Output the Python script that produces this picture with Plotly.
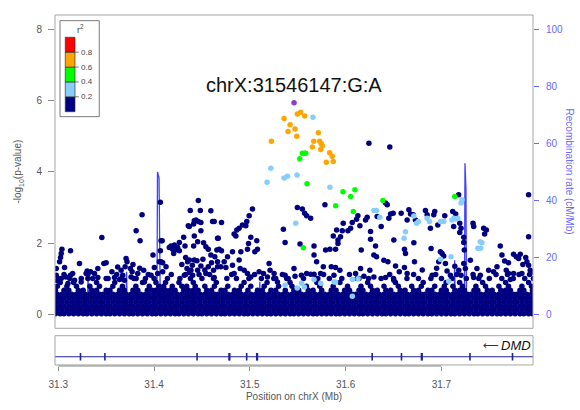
"""Regional association plot (LocusZoom style) around chrX:31546147:G:A.

Points are coloured by LD (r^2) with the lead variant, the blue line is the
recombination rate on the right-hand axis and the lower strip shows DMD.
"""
from __future__ import annotations

import plotly.graph_objects as go

# ---------------------------------------------------------------------------
# Data
# ---------------------------------------------------------------------------

lead_label = "chrX:31546147:G:A"
lead_pos = [31.546147]
lead_logp = [5.94]

orange_pos = [31.5357, 31.5496, 31.5531, 31.5573, 31.5420, 31.5472, 31.5399,
              31.5490, 31.5225, 31.5715, 31.5667, 31.5729, 31.5746, 31.5756,
              31.5652, 31.5740, 31.5833, 31.5860, 31.5798, 31.5871]
orange_logp = [5.50, 5.62, 5.67, 5.57, 5.32, 5.20, 5.13, 5.00, 4.86, 5.10,
               4.86, 4.86, 4.79, 4.73, 4.70, 4.63, 4.54, 4.44, 4.27, 4.29]

green_pos = [31.5548, 31.5573, 31.5583, 31.5521, 31.5597, 31.5972, 31.6097,
             31.6052, 31.5896, 31.6389, 31.6080, 31.5559, 31.7139]
green_logp = [4.52, 4.52, 4.52, 4.37, 3.67, 3.44, 3.50, 3.31, 3.05, 3.20,
              2.89, 1.87, 3.31]

lblue_pos = [31.5659, 31.5219, 31.5180, 31.5357, 31.5392, 31.5493, 31.5836,
             31.6295, 31.6323, 31.6357, 31.5479, 31.5368, 31.5540, 31.5495,
             31.5570, 31.5670, 31.5740, 31.5880, 31.5895, 31.6070, 31.6130,
             31.6070, 31.6712, 31.6740, 31.6760, 31.6850, 31.6875, 31.6990,
             31.7025, 31.7110, 31.7130, 31.7150, 31.7170, 31.7205, 31.7215,
             31.6625, 31.6610, 31.7406, 31.7423, 31.7380, 31.7410, 31.6990,
             31.7100, 31.7076]
lblue_logp = [5.53, 4.10, 3.71, 3.83, 3.88, 3.91, 3.57, 2.92, 2.92, 2.73,
              2.56, 0.82, 0.88, 0.74, 0.77, 0.98, 0.88, 0.91, 0.91, 0.98,
              1.00, 0.51, 2.76, 2.56, 2.61, 2.70, 2.61, 2.61, 2.61, 2.65,
              2.70, 2.68, 2.70, 3.13, 3.22, 2.32, 2.14, 2.04, 2.01, 1.86,
              1.86, 1.55, 1.62, 0.93]

# Dense low-significance band (r^2 < 0.2): positions of the packed rows
band_even_pos = [
    31.297, 31.302, 31.306, 31.311, 31.316, 31.321, 31.326, 31.330, 31.335,
    31.340, 31.345, 31.350, 31.354, 31.359, 31.364, 31.369, 31.374, 31.378,
    31.383, 31.388, 31.393, 31.398, 31.402, 31.407, 31.412, 31.417, 31.422,
    31.426, 31.431, 31.436, 31.441, 31.446, 31.450, 31.455, 31.460, 31.465,
    31.470, 31.474, 31.479, 31.484, 31.489, 31.494, 31.498, 31.503, 31.508,
    31.513, 31.518, 31.522, 31.527, 31.532, 31.537, 31.542, 31.546, 31.551,
    31.556, 31.561, 31.566, 31.570, 31.575, 31.580, 31.585, 31.590, 31.594,
    31.599, 31.604, 31.609, 31.614, 31.618, 31.623, 31.628, 31.633, 31.638,
    31.642, 31.647, 31.652, 31.657, 31.662, 31.666, 31.671, 31.676, 31.681,
    31.686, 31.690, 31.695, 31.700, 31.705, 31.710, 31.714, 31.719, 31.724,
    31.729, 31.734, 31.738, 31.743, 31.748, 31.753, 31.758, 31.762, 31.767,
    31.772, 31.777, 31.782, 31.786, 31.791, 31.795]
band_odd_pos = [
    31.299, 31.304, 31.309, 31.314, 31.319, 31.323, 31.328, 31.333, 31.338,
    31.343, 31.347, 31.352, 31.357, 31.362, 31.367, 31.371, 31.376, 31.381,
    31.386, 31.391, 31.395, 31.400, 31.405, 31.410, 31.415, 31.419, 31.424,
    31.429, 31.434, 31.439, 31.443, 31.448, 31.453, 31.458, 31.463, 31.467,
    31.472, 31.477, 31.482, 31.487, 31.491, 31.496, 31.501, 31.506, 31.511,
    31.515, 31.520, 31.525, 31.530, 31.535, 31.539, 31.544, 31.549, 31.554,
    31.559, 31.563, 31.568, 31.573, 31.578, 31.583, 31.587, 31.592, 31.597,
    31.602, 31.607, 31.611, 31.616, 31.621, 31.626, 31.631, 31.635, 31.640,
    31.645, 31.650, 31.655, 31.659, 31.664, 31.669, 31.674, 31.679, 31.683,
    31.688, 31.693, 31.698, 31.703, 31.707, 31.712, 31.717, 31.722, 31.727,
    31.731, 31.736, 31.741, 31.746, 31.751, 31.755, 31.760, 31.765, 31.770,
    31.775, 31.779, 31.784, 31.789, 31.794]
band_even_logp = [0.02, 0.24, 0.46]
band_odd_logp = [0.13, 0.35, 0.57]

# Thinner rows on top of the band
row68_pos = [31.297, 31.306, 31.311, 31.321, 31.326, 31.335, 31.340, 31.350,
             31.354, 31.364, 31.369, 31.378, 31.383, 31.393, 31.398, 31.402,
             31.407, 31.412, 31.417, 31.422, 31.431, 31.436, 31.441, 31.446,
             31.455, 31.460, 31.470, 31.474, 31.484, 31.489, 31.498, 31.508,
             31.513, 31.522, 31.527, 31.537, 31.546, 31.551, 31.561, 31.566,
             31.575, 31.585, 31.590, 31.599, 31.604, 31.614, 31.618, 31.628,
             31.633, 31.642, 31.647, 31.657, 31.662, 31.671, 31.676, 31.686,
             31.690, 31.700, 31.705, 31.714, 31.719, 31.724, 31.734, 31.738,
             31.748, 31.753, 31.762, 31.767, 31.772, 31.782, 31.786, 31.795]
row79_pos = [31.299, 31.309, 31.319, 31.333, 31.343, 31.357, 31.367, 31.381,
             31.395, 31.405, 31.410, 31.419, 31.429, 31.434, 31.443, 31.453,
             31.463, 31.477, 31.491, 31.501, 31.515, 31.530, 31.544, 31.559,
             31.573, 31.587, 31.602, 31.616, 31.626, 31.640, 31.655, 31.669,
             31.679, 31.693, 31.703, 31.712, 31.722, 31.736, 31.746, 31.760,
             31.770, 31.784, 31.794]
row90_pos = [31.302, 31.316, 31.340, 31.359, 31.388, 31.402, 31.412, 31.426,
             31.441, 31.465, 31.494, 31.518, 31.542, 31.570, 31.594, 31.623,
             31.652, 31.681, 31.705, 31.719, 31.743, 31.767, 31.791]
row101_pos = [31.300, 31.312, 31.324, 31.336, 31.352, 31.366, 31.379, 31.391,
              31.400, 31.414, 31.427, 31.438, 31.450, 31.462, 31.476, 31.486,
              31.499, 31.512, 31.525, 31.540, 31.556, 31.571, 31.583, 31.596,
              31.612, 31.624, 31.637, 31.650, 31.664, 31.676, 31.689, 31.700,
              31.711, 31.726, 31.739, 31.750, 31.763, 31.775, 31.787, 31.796]
row112_pos = [31.306, 31.331, 31.361, 31.394, 31.418, 31.433, 31.447, 31.458,
              31.481, 31.505, 31.534, 31.577, 31.604, 31.646, 31.671, 31.694,
              31.716, 31.733, 31.757, 31.769, 31.781, 31.792]
row_logp = {"row68": 0.68, "row79": 0.79, "row90": 0.90, "row101": 1.01,
            "row112": 1.12}

# Scattered r^2 < 0.2 variants above the band: (position Mb, -log10 p)
navy_scatter = [
    (31.6243, 4.80), (31.6461, 4.70), (31.7910, 3.36), (31.7180, 3.36),
    (31.7910, 2.18),
    (31.4066, 3.15), (31.3875, 2.80), (31.3813, 2.35), (31.3854, 2.07),
    (31.3455, 2.16), (31.3128, 1.79), (31.3038, 1.83), (31.3031, 1.71),
    (31.3024, 1.60), (31.3014, 1.48), (31.2979, 1.29), (31.3066, 1.32),
    (31.3222, 1.43), (31.3476, 1.43), (31.3500, 1.45), (31.3413, 1.29),
    (31.3302, 1.22), (31.3337, 1.20), (31.3128, 1.10), (31.3708, 1.57),
    (31.3718, 1.48), (31.3698, 1.34), (31.3753, 1.29), (31.3771, 1.20),
    (31.3892, 1.24), (31.3989, 1.67), (31.4003, 1.32), (31.4073, 2.07),
    (31.4085, 2.07), (31.4066, 1.79), (31.4055, 1.48), (31.4073, 1.48),
    (31.4090, 1.45), (31.4125, 1.34), (31.4159, 1.88), (31.4177, 1.92),
    (31.4194, 1.83), (31.4212, 1.95), (31.4219, 1.81), (31.4246, 1.88),
    (31.4205, 1.71), (31.4264, 1.79), (31.4264, 2.02), (31.4309, 2.17),
    (31.4323, 1.92), (31.4357, 2.49), (31.4368, 2.47), (31.4378, 2.92),
    (31.4420, 2.63), (31.4437, 2.65), (31.4462, 2.61), (31.4413, 2.54),
    (31.4489, 2.58), (31.4489, 2.35), (31.4462, 3.20), (31.4483, 2.92),
    (31.4593, 2.91), (31.4611, 2.61), (31.4420, 2.20), (31.4455, 2.04),
    (31.4413, 1.92), (31.4517, 2.01), (31.4541, 1.90), (31.4566, 1.83),
    (31.4593, 1.67), (31.4663, 2.14), (31.4656, 1.81), (31.4350, 1.48),
    (31.4368, 1.53), (31.4344, 1.29), (31.4420, 1.53), (31.4448, 1.51),
    (31.4385, 1.24), (31.4316, 1.10), (31.4403, 1.10), (31.4455, 1.24),
    (31.4489, 1.36), (31.4566, 1.34), (31.4541, 1.15), (31.4621, 1.24),
    (31.4663, 1.48), (31.4628, 1.04), (31.3291, 1.15), (31.3378, 1.15),
    (31.3309, 1.01), (31.3413, 1.04), (31.3500, 1.01), (31.3587, 1.04),
    (31.3656, 1.24), (31.3673, 1.10), (31.3691, 0.96), (31.3760, 1.05),
    (31.3813, 1.01), (31.3830, 1.15), (31.3899, 0.91), (31.3969, 1.10),
    (31.4038, 1.15), (31.4090, 1.20), (31.2979, 1.10), (31.3031, 1.01),
    (31.3101, 0.87), (31.3170, 0.96), (31.3239, 0.91), (31.4290, 1.40),
    (31.4330, 1.60), (31.4400, 1.38), (31.4510, 1.55), (31.4600, 1.45),
    (31.4530, 1.25), (31.4370, 1.18), (31.3560, 1.20), (31.3620, 1.33),
    (31.3640, 0.98), (31.3780, 1.40), (31.3850, 1.30), (31.2990, 0.95),
    (31.3080, 1.05), (31.3150, 1.15),
    (31.5027, 2.96), (31.4993, 2.77), (31.4968, 2.61), (31.4958, 2.49),
    (31.4923, 2.51), (31.4888, 2.42), (31.4864, 2.37), (31.4836, 2.26),
    (31.4854, 2.20), (31.4704, 2.58), (31.4628, 2.61), (31.4670, 2.14),
    (31.5010, 2.17), (31.5072, 2.07), (31.4986, 1.99), (31.5079, 1.83),
    (31.5052, 1.76), (31.4975, 1.83), (31.4906, 1.76), (31.4819, 1.76),
    (31.4680, 1.83), (31.4704, 1.79), (31.4635, 1.62), (31.4732, 1.48),
    (31.4697, 1.34), (31.4663, 1.34), (31.4750, 1.32), (31.4888, 1.53),
    (31.4899, 1.29), (31.4941, 1.24), (31.4836, 1.15), (31.4975, 1.15),
    (31.5010, 1.05), (31.5097, 1.20), (31.5142, 1.15), (31.5201, 1.43),
    (31.5211, 1.24), (31.5184, 1.05), (31.5253, 1.15), (31.5270, 1.01),
    (31.5288, 0.91), (31.5350, 2.39), (31.5368, 2.02), (31.5368, 1.10),
    (31.5385, 1.01), (31.5461, 1.29), (31.5472, 1.07), (31.5538, 1.10),
    (31.5593, 1.15), (31.5635, 1.13), (31.5670, 1.13), (31.5687, 1.01),
    (31.5739, 1.15), (31.5767, 1.34), (31.5496, 3.00), (31.5548, 2.96),
    (31.5572, 2.84), (31.5593, 2.77), (31.5635, 2.70), (31.5524, 1.98),
    (31.5670, 1.92), (31.5670, 1.67), (31.5697, 1.48), (31.5784, 3.08),
    (31.5836, 1.83), (31.5791, 1.81), (31.5850, 1.34), (31.5895, 1.32),
    (31.5940, 1.24), (31.5878, 1.10), (31.5871, 2.20), (31.5920, 2.09),
    (31.5947, 2.18), (31.5965, 2.35), (31.5906, 2.37), (31.5920, 1.99),
    (31.5895, 1.83), (31.5975, 2.56), (31.6024, 2.35), (31.6052, 2.42),
    (31.6069, 2.58), (31.6114, 2.67), (31.6128, 2.77), (31.6149, 2.49),
    (31.6208, 2.65), (31.6225, 2.73), (31.6260, 2.33), (31.6163, 1.81),
    (31.6260, 2.11), (31.6156, 1.29), (31.6104, 1.15), (31.6139, 1.01),
    (31.6253, 1.24), (31.6191, 1.07), (31.6295, 1.05), (31.6329, 2.75),
    (31.4767, 1.62), (31.4819, 1.38),
    (31.6417, 3.13), (31.6434, 3.08), (31.6469, 2.82), (31.6496, 2.84),
    (31.6451, 2.70), (31.6580, 2.84), (31.6660, 2.94), (31.6677, 2.82),
    (31.6705, 2.80), (31.6729, 2.65), (31.6642, 2.65), (31.6833, 2.92),
    (31.6851, 2.80), (31.6930, 2.89), (31.6920, 2.80), (31.6962, 2.51),
    (31.6885, 2.42), (31.7035, 2.77), (31.7118, 2.89), (31.7149, 2.82),
    (31.7128, 2.47), (31.7191, 2.56), (31.7205, 2.42), (31.7191, 2.30),
    (31.7330, 2.56), (31.7337, 2.47), (31.7233, 2.17), (31.7233, 2.02),
    (31.7441, 2.42), (31.7469, 2.37), (31.7451, 2.26), (31.6371, 2.47),
    (31.6312, 1.92), (31.6295, 1.67), (31.6323, 1.62), (31.6399, 1.52),
    (31.6441, 1.48), (31.6503, 2.09), (31.6614, 1.83), (31.6712, 2.01),
    (31.6625, 1.71), (31.6892, 1.85), (31.6989, 1.76), (31.7007, 1.71),
    (31.7024, 1.64), (31.6972, 1.48), (31.7042, 1.43), (31.6719, 1.48),
    (31.6614, 1.32), (31.6521, 1.36), (31.6417, 1.04), (31.6503, 0.96),
    (31.6642, 1.15), (31.7239, 1.81), (31.7233, 1.43), (31.7250, 1.29),
    (31.7302, 1.52), (31.6903, 1.10), (31.7059, 1.22), (31.7094, 1.10),
    (31.7181, 1.24), (31.7205, 1.10), (31.7614, 1.92), (31.7632, 1.67),
    (31.7753, 1.69), (31.7781, 1.62), (31.7823, 1.69), (31.7806, 1.57),
    (31.7892, 1.48), (31.7910, 1.38), (31.7927, 1.24), (31.7493, 1.24),
    (31.7545, 1.20), (31.7580, 1.34), (31.7677, 1.24), (31.7701, 1.15),
    (31.7753, 1.15), (31.7840, 1.15), (31.7719, 0.98), (31.7371, 1.29),
    (31.7406, 1.10), (31.7337, 1.04), (31.7700, 1.45), (31.7850, 1.40),
    (31.7880, 1.60), (31.7660, 1.50), (31.7950, 1.20), (31.6800, 1.25),
    (31.6950, 1.30), (31.6560, 1.20), (31.7140, 1.35),
]

# Recombination rate (cM/Mb)
recomb_pos = [31.2966, 31.3100, 31.3305, 31.3311, 31.3318, 31.3500, 31.3706,
              31.3713, 31.3720, 31.3900, 31.4030, 31.4036, 31.4052, 31.4058,
              31.4066, 31.4300, 31.4600, 31.4900, 31.5098, 31.5104, 31.5110,
              31.5400, 31.5800, 31.6200, 31.6600, 31.6758, 31.6764, 31.6770,
              31.6950, 31.7132, 31.7138, 31.7144, 31.7240, 31.7246, 31.7256,
              31.7262, 31.7300, 31.7600, 31.7956]
recomb_rate = [0.6, 0.9, 1.0, 14.0, 1.2, 0.8, 1.5, 15.0, 1.4, 0.9, 1.8, 50.0,
               48.0, 13.0, 1.5, 0.7, 1.1, 0.8, 0.9, 11.5, 0.9, 0.6, 0.4, 0.5,
               0.7, 0.8, 5.5, 0.8, 0.6, 0.9, 19.0, 1.0, 2.0, 53.0, 44.0, 2.5,
               0.6, 0.3, 0.2]

# Gene track (DMD, minus strand)
gene_name = "DMD"
gene_span = [31.097677, 33.339441]
exon_pos = [31.3232, 31.3487, 31.4449, 31.4783, 31.4790, 31.4967, 31.5072,
            31.5079, 31.6277, 31.6583, 31.6792, 31.6798, 31.7298, 31.7742]

# Axes
x_ticks = [31.3, 31.4, 31.5, 31.6, 31.7]
logp_ticks = [0, 2, 4, 6, 8]
recomb_ticks = [0, 20, 40, 60, 80, 100]
r2_breaks = [0.0, 0.2, 0.4, 0.6, 0.8, 1.0]
r2_labels = ["0.2", "0.4", "0.6", "0.8"]
r2_colors = ["#000080", "#87CEFA", "#00FF00", "#FFA500", "#FF0000"]

# ---------------------------------------------------------------------------
# Style
# ---------------------------------------------------------------------------

_FONT = "Liberation Sans, Arial, Helvetica, sans-serif"
_LEAD_COLOR = "#8A3CD6"
_RECOMB_COLOR = "rgba(30, 30, 255, 0.85)"
_AXIS_BLUE = "#6a6aff"
_GRAY_TEXT = "#555555"
_FRAME = "#a6a6a6"
_GENE_COLOR = "#22229a"
_POINT_SIZE = 5.5

X_RANGE = [31.2966, 31.7956]
P_RANGE = [-0.387, 8.40]
RECOMB_PER_UNIT = 12.5  # 100 cM/Mb lines up with -log10 p = 8
MAIN_DOMAIN = [0.1074, 1.0]
GENE_DOMAIN = [0.003, 0.0863]
GENE_Y = 0.28


def _band_rows() -> tuple[list[float], list[float]]:
    """Flatten the packed rows of the low-significance band."""
    xs: list[float] = []
    ys: list[float] = []
    for level in band_even_logp:
        xs += band_even_pos
        ys += [level] * len(band_even_pos)
    for level in band_odd_logp:
        xs += band_odd_pos
        ys += [level] * len(band_odd_pos)
    partial = (("row68", row68_pos), ("row79", row79_pos), ("row90", row90_pos),
               ("row101", row101_pos), ("row112", row112_pos))
    for key, pos in partial:
        xs += pos
        ys += [row_logp[key]] * len(pos)
    return xs, ys


def _points(fig: go.Figure, xs, ys, color: str) -> None:
    fig.add_trace(
        go.Scatter(
            x=xs, y=ys, mode="markers", xaxis="x", yaxis="y2",
            marker={"color": color, "size": _POINT_SIZE, "line": {"width": 0}},
            hoverinfo="skip",
        )
    )


def _add_r2_legend(fig: go.Figure) -> None:
    """Boxed colour key in the top-left corner of the association panel."""
    box = (0.0105, 0.0926, 0.7103, 0.9838)
    bar_x0, bar_x1, bar_y0, bar_y1 = 0.0215, 0.0418, 0.7245, 0.9365
    fig.add_shape(type="rect", xref="paper", yref="paper", x0=box[0], x1=box[1],
                  y0=box[2], y1=box[3], line={"color": "#7a7a7a", "width": 1},
                  fillcolor="white", layer="above")
    span = bar_y1 - bar_y0
    for i, color in enumerate(r2_colors):
        fig.add_shape(type="rect", xref="paper", yref="paper", x0=bar_x0, x1=bar_x1,
                      y0=bar_y0 + r2_breaks[i] * span, y1=bar_y0 + r2_breaks[i + 1] * span,
                      line={"color": "#333333", "width": 0.7}, fillcolor=color,
                      layer="above")
    for brk, label in zip(r2_breaks[1:-1], r2_labels):
        y = bar_y0 + brk * span
        fig.add_shape(type="line", xref="paper", yref="paper", x0=bar_x1, x1=bar_x1 + 0.008,
                      y0=y, y1=y, line={"color": "#555555", "width": 0.8}, layer="above")
        fig.add_annotation(xref="paper", yref="paper", x=bar_x1 + 0.009, y=y, text=label,
                           showarrow=False, xanchor="left", yanchor="middle",
                           font={"size": 8, "color": "#444444"})
    fig.add_annotation(xref="paper", yref="paper", x=0.0535, y=0.9600,
                       text="r<sup>2</sup>", showarrow=False, xanchor="center",
                       yanchor="middle", font={"size": 9, "color": "#444444"})


def build_figure() -> go.Figure:
    fig = go.Figure()

    # Recombination rate sits underneath the points
    fig.add_trace(
        go.Scatter(x=recomb_pos, y=recomb_rate, mode="lines", xaxis="x", yaxis="y",
                   line={"color": _RECOMB_COLOR, "width": 1.3}, hoverinfo="skip")
    )

    band_x, band_y = _band_rows()
    scat_x = [p for p, _ in navy_scatter]
    scat_y = [v for _, v in navy_scatter]
    _points(fig, band_x + scat_x, band_y + scat_y, r2_colors[0])
    _points(fig, lblue_pos, lblue_logp, r2_colors[1])
    _points(fig, green_pos, green_logp, r2_colors[2])
    _points(fig, orange_pos, orange_logp, r2_colors[3])
    _points(fig, lead_pos, lead_logp, _LEAD_COLOR)

    # Gene track
    fig.add_trace(
        go.Scatter(x=gene_span, y=[GENE_Y, GENE_Y], mode="lines", xaxis="x", yaxis="y3",
                   line={"color": _GENE_COLOR, "width": 1.2}, hoverinfo="skip")
    )
    fig.add_trace(
        go.Scatter(x=exon_pos, y=[GENE_Y] * len(exon_pos), mode="markers", xaxis="x",
                   yaxis="y3", hoverinfo="skip",
                   marker={"symbol": "line-ns", "size": 5.5,
                           "line": {"color": _GENE_COLOR, "width": 1.6}})
    )

    fig.update_layout(
        template="none",
        width=580,
        height=410,
        margin={"l": 55, "r": 47, "t": 15, "b": 44, "pad": 0},
        paper_bgcolor="white",
        plot_bgcolor="white",
        showlegend=False,
        hovermode=False,
        font={"family": _FONT, "size": 10, "color": "#444444"},
        xaxis={
            "range": X_RANGE, "anchor": "free", "position": 0,
            "tickvals": x_ticks, "ticktext": [f"{t:.1f}" for t in x_ticks],
            "ticks": "outside", "ticklen": 4, "tickcolor": "#888888",
            "tickfont": {"size": 10, "color": _GRAY_TEXT}, "ticklabelstandoff": 5,
            "showline": False, "showgrid": False, "zeroline": False,
            "automargin": False,
            "title": {"text": "Position on chrX (Mb)", "standoff": 3,
                      "font": {"size": 10, "color": _GRAY_TEXT}},
        },
        yaxis={
            "domain": MAIN_DOMAIN, "anchor": "x", "side": "right",
            "range": [v * RECOMB_PER_UNIT for v in P_RANGE],
            "tickvals": recomb_ticks, "ticks": "outside", "ticklen": 5,
            "tickcolor": _AXIS_BLUE, "tickfont": {"size": 10, "color": _AXIS_BLUE},
            "ticklabelstandoff": 5,
            "showline": False, "showgrid": False, "zeroline": False,
            "automargin": False,
        },
        yaxis2={
            "overlaying": "y", "anchor": "x", "side": "left", "range": P_RANGE,
            "tickvals": logp_ticks, "ticks": "outside", "ticklen": 6,
            "tickcolor": "#888888", "tickfont": {"size": 10, "color": _GRAY_TEXT},
            "ticklabelstandoff": 4,
            "showline": False, "showgrid": False, "zeroline": False,
            "automargin": False,
            "title": {"text": "-log<sub>10</sub>(p-value)", "standoff": 12,
                      "font": {"size": 10, "color": _GRAY_TEXT}},
        },
        yaxis3={
            "domain": GENE_DOMAIN, "anchor": "x", "range": [0, 1],
            "visible": False, "fixedrange": True,
        },
    )

    # Panel frames and the R-style x axis line (first to last tick)
    for y0, y1 in (MAIN_DOMAIN, GENE_DOMAIN):
        fig.add_shape(type="rect", xref="paper", yref="paper", x0=0, x1=1, y0=y0, y1=y1,
                      line={"color": _FRAME, "width": 1}, layer="above")
    fig.add_shape(type="line", xref="x", yref="paper", x0=x_ticks[0], x1=x_ticks[-1],
                  y0=0, y1=0, line={"color": "#888888", "width": 1})

    # Lead variant label above the lead SNP
    fig.add_annotation(x=lead_pos[0], y=6.45, xref="x", yref="y2", text=lead_label,
                       showarrow=False, font={"size": 20, "color": "#111111"})

    # Right-hand axis title, reading top to bottom
    fig.add_annotation(xref="paper", yref="paper", x=1.0753, y=0.554,
                       text="Recombination rate (cM/Mb)", textangle=90,
                       showarrow=False, xanchor="center",
                       font={"size": 10, "color": _AXIS_BLUE})

    # Gene label with strand arrow
    fig.add_annotation(xref="paper", yref="y3", x=1.0, y=0.66, text=f"<i>{gene_name}</i>",
                       showarrow=False, xanchor="right", yanchor="middle",
                       font={"size": 13, "color": "#111111"})
    fig.add_annotation(xref="paper", yref="y3", x=0.912, y=0.66, text="\u27f5",
                       showarrow=False, xanchor="center", yanchor="middle",
                       font={"family": "DejaVu Sans", "size": 11, "color": "#333333"})

    _add_r2_legend(fig)
    return fig


def main() -> None:
    fig = build_figure()
    # the page body has a default 8px margin; drop it so the figure sits at 0,0
    fig.write_html("out.html", config={"displayModeBar": False},
                   post_script="document.body.style.margin='0px';")


if __name__ == "__main__":
    main()
